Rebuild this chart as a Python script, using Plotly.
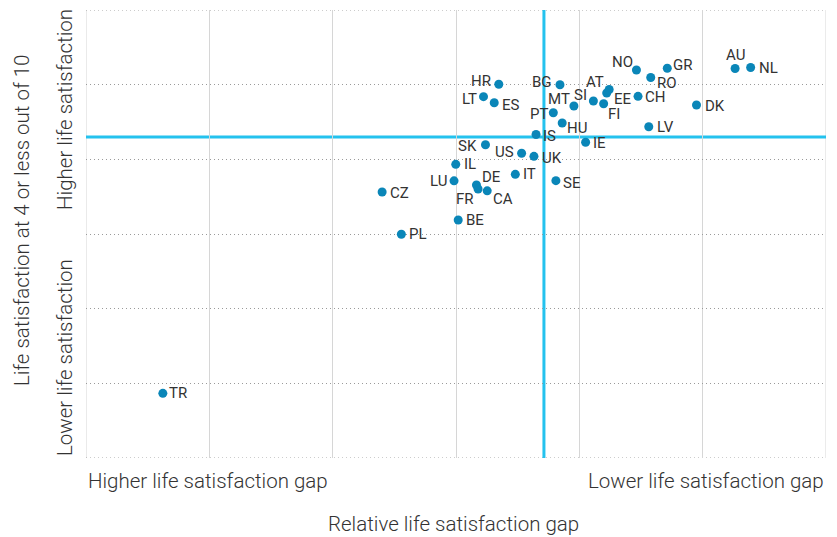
import plotly.graph_objects as go

countries = ["HR", "BG", "LT", "ES", "MT", "SI", "AT", "EE", "FI", "CH",
             "NO", "GR", "RO", "AU", "NL", "DK", "PT", "HU", "LV", "IS",
             "IE", "SK", "US", "UK", "IL", "LU", "DE", "FR", "CA", "IT",
             "SE", "CZ", "BE", "PL", "TR"]
gap = [3.347, 3.843, 3.223, 3.310, 3.956, 4.114, 4.242, 4.222, 4.197, 4.476,
       4.463, 4.713, 4.579, 5.263, 5.389, 4.950, 3.789, 3.861, 4.563, 3.649,
       4.051, 3.239, 3.532, 3.632, 2.998, 2.984, 3.166, 3.179, 3.253, 3.481,
       3.810, 2.401, 3.018, 2.557, 0.623]
low_sat = [5.005, 4.999, 4.839, 4.758, 4.714, 4.781, 4.935, 4.888, 4.745, 4.844,
           5.196, 5.220, 5.096, 5.216, 5.230, 4.727, 4.624, 4.486, 4.437, 4.332,
           4.229, 4.196, 4.081, 4.040, 3.933, 3.712, 3.656, 3.603, 3.578, 3.799,
           3.714, 3.562, 3.187, 2.996, 0.866]

# label offsets from the dot (pixels): horizontal and vertical (screen, + = down)
label_dx = [-7, -7, -6, 7, -3, -5, -4, 6, 3, 6,
            -2, 5, 5, 0, 7, 7, -4, 4, 7, 6,
            6, -7, -7, 7, 7, -6, 5, -3, 5, 7,
            6, 7, 7, 7, 5]
label_dy = [-3, -3, 2, 2, -7, -6, -8, 6, 10, 1,
            -8, -3, 5, -14, 1, 1, 1, 5, 0, 1,
            1, 1, -1, 2, 0, 0, -8, 10, 8, 0,
            2, 1, 0, 0, 0]

x_range = [0, 6]
y_range = [0, 6]
x_ref = 3.713
y_ref = 4.299

TEXT = "#333333"
FONT = "Roboto"
LABEL_FONT = dict(family=FONT, size=15, color=TEXT, weight=400)
AXIS_FONT = dict(family=FONT, size=20.5, color=TEXT, weight=300)

fig = go.Figure()
fig.add_trace(go.Scatter(
    x=gap, y=low_sat, mode="markers", text=countries,
    marker=dict(size=9, color="#0a86b8"),
    hoverinfo="text", showlegend=False, cliponaxis=False,
))

annos = []
for c, xv, yv, dx, dy in zip(countries, gap, low_sat, label_dx, label_dy):
    anchor = "left" if dx > 0 else ("right" if dx < 0 else "center")
    annos.append(dict(x=xv, y=yv, text=c, showarrow=False, xanchor=anchor,
                      yanchor="middle", xshift=dx, yshift=-dy, font=LABEL_FONT,
                      borderpad=0))

# frame lines at the axis limits (grid edges)
for xv in x_range:
    fig.add_shape(type="line", x0=xv, x1=xv, y0=y_range[0], y1=y_range[1],
                  line=dict(color="#d6d6d6", width=1), layer="below")
for yv in y_range:
    fig.add_shape(type="line", x0=x_range[0], x1=x_range[1], y0=yv, y1=yv,
                  line=dict(color="#9a9a9a", width=1, dash="1px,3px"), layer="below")

fig.add_shape(type="line", x0=x_ref, x1=x_ref, y0=y_range[0], y1=y_range[1],
              line=dict(color="#24c2ee", width=3), layer="below")
fig.add_shape(type="line", x0=x_range[0], x1=x_range[1], y0=y_ref, y1=y_ref,
              line=dict(color="#24c2ee", width=3), layer="below")

fig.update_xaxes(range=x_range, tick0=0, dtick=1, showgrid=True,
                 gridcolor="#d6d6d6", gridwidth=1, showticklabels=False,
                 zeroline=False, showline=False, ticks="")
fig.update_yaxes(range=y_range, tick0=0, dtick=1, showgrid=True,
                 gridcolor="#9a9a9a", gridwidth=1, griddash="1px,3px",
                 showticklabels=False, zeroline=False, showline=False, ticks="")

annos += [
    dict(text="Higher life satisfaction gap", x=0, y=0, xref="paper", yref="paper",
         xanchor="left", yanchor="middle", yshift=-23, showarrow=False, font=AXIS_FONT),
    dict(text="Lower life satisfaction gap", x=1, y=0, xref="paper", yref="paper",
         xanchor="right", yanchor="middle", yshift=-23, showarrow=False, font=AXIS_FONT),
    dict(text="Relative life satisfaction gap", x=0.5, y=0, xref="paper", yref="paper",
         xanchor="center", yanchor="middle", yshift=-66, xshift=-3,
         showarrow=False, font=AXIS_FONT),
    dict(text="Higher life satisfaction", x=0, y=0.777, xref="paper", yref="paper",
         xanchor="center", yanchor="middle", xshift=-21, textangle=-90,
         showarrow=False, font=AXIS_FONT),
    dict(text="Lower life satisfaction", x=0, y=0.223, xref="paper", yref="paper",
         xanchor="center", yanchor="middle", xshift=-21, textangle=-90,
         showarrow=False, font=AXIS_FONT),
    dict(text="Life satisfaction at 4 or less out of 10", x=0, y=0.531, xref="paper",
         yref="paper", xanchor="center", yanchor="middle", xshift=-64, textangle=-90,
         showarrow=False, font=AXIS_FONT),
]

fig.update_layout(
    width=837, height=537,
    margin=dict(l=86, r=11, t=10, b=79),
    plot_bgcolor="white", paper_bgcolor="white",
    font=dict(family=FONT, color=TEXT),
    annotations=annos,
)

fig.write_html("out.html", config={"displayModeBar": False},
               post_script="document.body.style.margin='0';")
